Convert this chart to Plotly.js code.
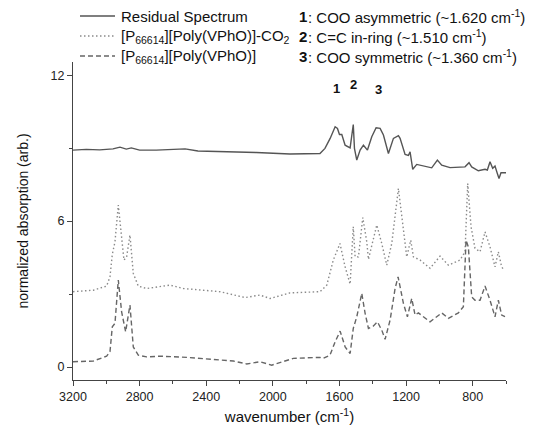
<!DOCTYPE html>
<html>
<head>
<meta charset="utf-8">
<script src="https://cdn.plot.ly/plotly-3.0.1.min.js"></script>
<style>html,body{margin:0;padding:0;background:#fff;}#chart{width:533px;height:431px;}</style>
</head>
<body>
<div id="chart"></div>
<script>
// Residual spectrum (solid)
const resX = [3200,3120,3040,2960,2918,2880,2850,2800,2700,2588,2527,2450,2300,2100,1897,1760,1717,1687,1656,1626,1612,1600,1586,1566,1536,1517,1510,1496,1476,1456,1432,1406,1380,1356,1336,1306,1276,1246,1236,1206,1186,1176,1160,1136,1096,1046,1012,986,936,876,846,822,806,766,726,712,696,680,666,652,642,630,600];
const resY = [8.92,8.95,8.93,8.97,9.04,8.96,9.01,8.92,8.92,8.97,8.97,8.88,8.86,8.82,8.76,8.76,8.78,8.99,9.40,9.88,9.81,9.56,9.56,9.12,9.01,9.97,8.99,8.51,8.92,9.12,8.92,9.47,9.84,9.81,9.54,8.78,9.40,9.51,9.40,8.74,8.70,8.85,8.13,8.33,8.26,8.19,8.51,8.30,8.20,8.20,8.23,8.40,8.23,8.07,8.13,8.10,8.44,8.17,8.26,7.96,7.75,7.99,7.99];

// [P66614][Poly(VPhO)]-CO2 (dotted)
const co2X = [3200,3078,2998,2978,2964,2948,2928,2908,2894,2878,2858,2838,2808,2758,2697,2617,2537,2417,2317,2167,2123,2077,2017,1897,1717,1676,1637,1597,1566,1536,1517,1506,1486,1460,1436,1426,1376,1346,1316,1286,1246,1216,1196,1172,1156,1116,1056,996,946,876,846,830,810,786,756,726,696,666,646,626,612];
const co2Y = [3.10,3.16,3.33,3.71,4.63,5.15,6.66,5.36,4.40,4.53,5.43,3.85,3.33,3.23,3.30,3.37,3.23,3.16,3.10,2.86,2.92,2.96,2.82,3.05,3.10,3.37,4.40,5.08,4.12,3.41,5.77,4.53,4.53,6.15,5.15,4.43,5.84,5.08,4.19,5.08,7.34,5.49,4.53,5.22,4.53,4.40,4.06,4.56,4.19,4.40,4.74,7.55,5.77,4.88,4.74,5.56,4.94,4.12,4.74,4.12,3.99];

// [P66614][Poly(VPhO)] (dashed)
const polyX = [3200,3078,2998,2978,2964,2948,2928,2908,2884,2858,2838,2808,2758,2678,2517,2357,2237,2157,2077,2007,1877,1717,1697,1657,1626,1596,1566,1536,1517,1496,1466,1446,1426,1396,1372,1346,1326,1296,1266,1248,1216,1192,1166,1146,1126,1096,1056,986,946,886,856,840,826,806,786,756,726,696,666,646,626,606];
const polyY = [0.22,0.25,0.45,0.63,1.66,1.80,3.58,2.27,1.45,2.55,0.83,0.49,0.42,0.45,0.40,0.32,0.25,0.13,0.22,0.08,0.36,0.40,0.36,0.49,1.04,1.48,0.83,0.56,1.59,2.07,3.03,2.21,1.59,1.69,1.86,1.52,1.14,1.93,3.23,3.71,2.62,2.07,2.82,2.14,2.23,2.07,1.86,2.23,2.00,2.23,2.48,5.22,4.94,2.89,2.75,2.75,3.33,2.75,2.07,2.75,2.14,2.07];

const seriesNames = ["Residual Spectrum", "[P<sub>66614</sub>][Poly(VPhO)]-CO<sub>2</sub>", "[P<sub>66614</sub>][Poly(VPhO)]"];
const xTicks = [3200,2800,2400,2000,1600,1200,800];
const yTicks = [0,6,12];
const peakLabels = ["1","2","3"];
const peakX = [1620,1515,1368];
const peakY = [11.47,11.6,11.4];
const noteTexts = [
  ": COO asymmetric (~1.620 cm<sup>-1</sup>)",
  ": C=C in-ring (~1.510 cm<sup>-1</sup>)",
  ": COO symmetric (~1.360 cm<sup>-1</sup>)"
];

const font = "Liberation Sans, Arial, sans-serif";
const L = 73, R = 27, T = 62, B = 51, W = 533, H = 431;
const px2x = p => (p - L) / (W - L - R);
const px2y = p => (H - B - p) / (H - T - B);

const styles = [
  {color: "#555555", width: 1.4, dash: "solid"},
  {color: "#8a8a8a", width: 1.4, dash: "1.5px,2.5px"},
  {color: "#666666", width: 1.4, dash: "5px,3px"}
];

const traces = [
  {x: resX, y: resY, name: seriesNames[0], type: "scatter", mode: "lines", line: styles[0]},
  {x: co2X, y: co2Y, name: seriesNames[1], type: "scatter", mode: "lines", line: styles[1]},
  {x: polyX, y: polyY, name: seriesNames[2], type: "scatter", mode: "lines", line: styles[2]}
];

const annotations = [];
const shapes = [];
peakLabels.forEach((t, i) => {
  annotations.push({x: peakX[i], y: peakY[i], xref: "x", yref: "y", text: t,
    showarrow: false, font: {family: font, size: 13, color: "#111", weight: "bold"}});
});
noteTexts.forEach((t, i) => {
  const yy = px2y(16 + i * 20);
  annotations.push({x: px2x(297), y: yy, xref: "paper", yref: "paper", text: peakLabels[i],
    showarrow: false, xanchor: "left", yanchor: "middle", font: {family: font, size: 15, color: "#111", weight: "bold"}});
  annotations.push({x: px2x(305.5), y: yy, xref: "paper", yref: "paper", text: t,
    showarrow: false, xanchor: "left", yanchor: "middle", font: {family: font, size: 15, color: "#111"}});
});
// manual legend
seriesNames.forEach((t, i) => {
  const yy = px2y(16 + i * 20);
  shapes.push({type: "line", xref: "paper", yref: "paper", x0: px2x(80), x1: px2x(115), y0: yy, y1: yy,
    line: styles[i]});
  annotations.push({x: px2x(119), y: yy, xref: "paper", yref: "paper", text: t, showarrow: false,
    xanchor: "left", yanchor: "middle", font: {family: font, size: 15, color: "#111"}});
});

const layout = {
  width: W, height: H,
  margin: {l: L, r: R, t: T, b: B},
  paper_bgcolor: "#fff", plot_bgcolor: "#fff",
  font: {family: font, size: 12, color: "#222"},
  showlegend: false,
  xaxis: {range: [3200, 600], tickvals: xTicks, ticks: "outside", ticklen: 5, tickcolor: "#444",
    showline: true, linecolor: "#444", linewidth: 1, showgrid: false, zeroline: false, automargin: false,
    minor: {dtick: 200, ticks: "outside", ticklen: 3, tickcolor: "#444", showgrid: false},
    tickfont: {family: font, size: 12.5, color: "#222"},
    title: {text: "wavenumber (cm<sup>-1</sup>)", font: {family: font, size: 15, color: "#111"}, standoff: 8}},
  yaxis: {range: [-0.53, 12.54], tickvals: yTicks, ticks: "outside", ticklen: 5, tickcolor: "#444",
    showline: true, linecolor: "#444", linewidth: 1, showgrid: false, zeroline: false, automargin: false,
    minor: {dtick: 3, ticks: "outside", ticklen: 3, tickcolor: "#444", showgrid: false},
    tickfont: {family: font, size: 12.5, color: "#222"},
    title: {text: "normalized absorption (arb.)", font: {family: font, size: 14, color: "#111"}, standoff: 18}},
  annotations: annotations,
  shapes: shapes
};

Plotly.newPlot("chart", traces, layout, {displayModeBar: false, staticPlot: true});
</script>
</body>
</html>
